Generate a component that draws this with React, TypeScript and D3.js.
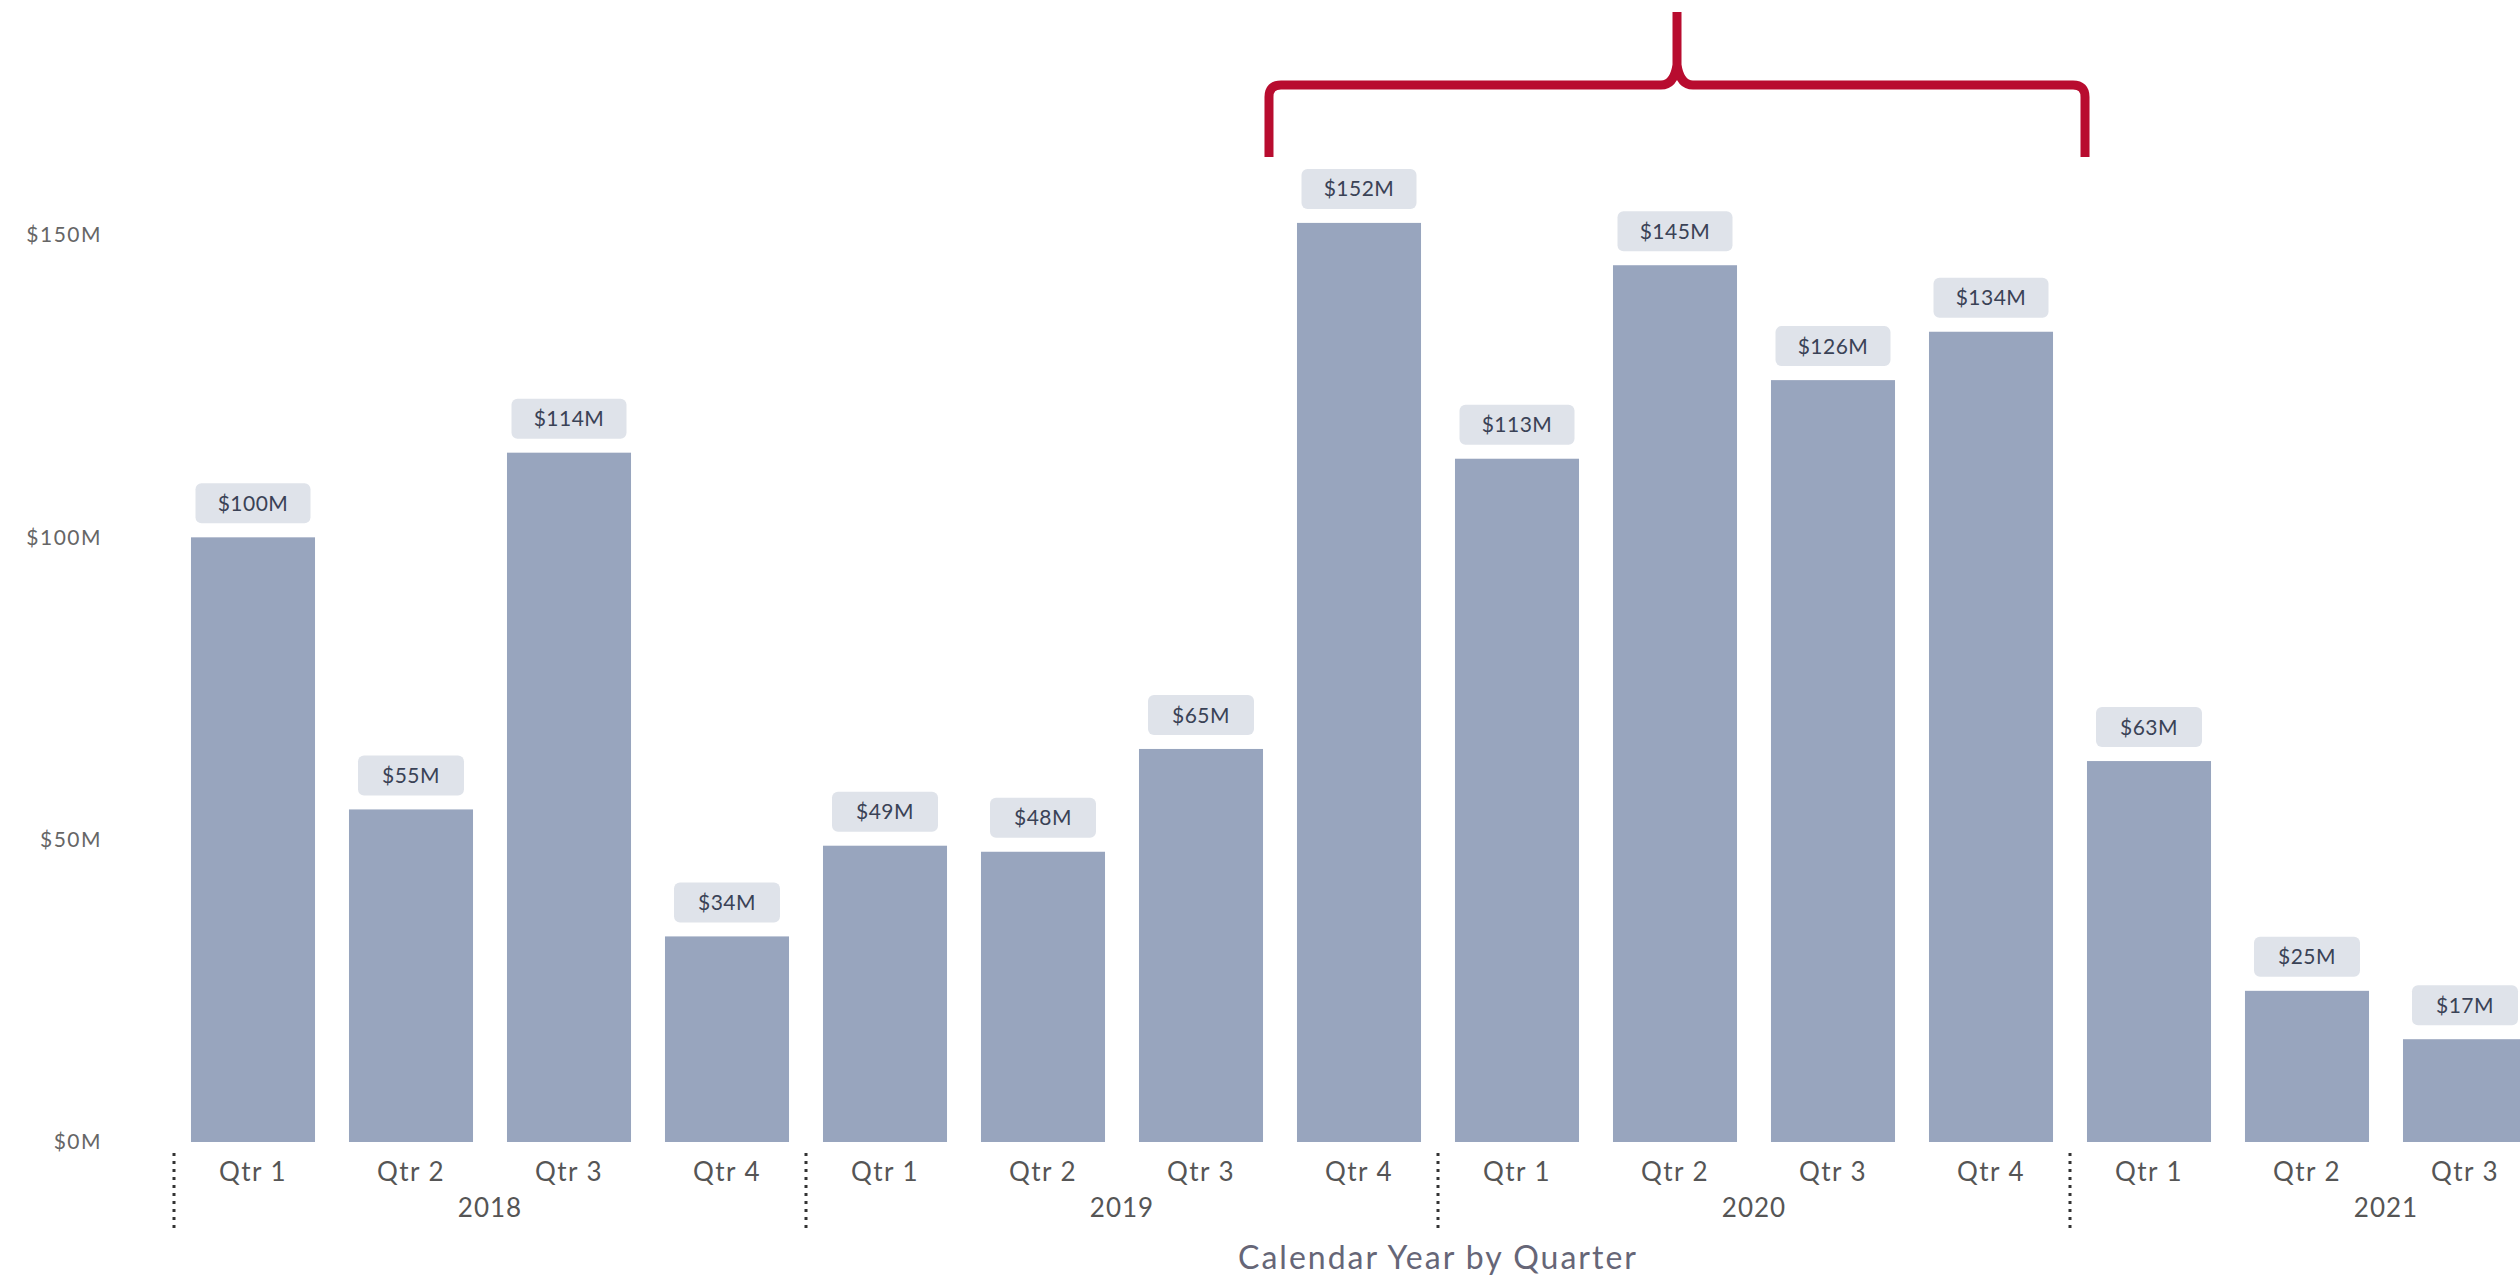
import React from "react";
import * as d3 from "d3";

const years = ["2018", "2019", "2020", "2021"];
const quarters = ["Qtr 1", "Qtr 2", "Qtr 3", "Qtr 4"];
// values in $M, in period order (2018 Qtr 1 ... 2021 Qtr 3)
const values = [100, 55, 114, 34, 49, 48, 65, 152, 113, 145, 126, 134, 63, 25, 17];
const yTicks = [0, 50, 100, 150];
const xTitle = "Calendar Year by Quarter";
const bracketFrom = "2019|Qtr 4";
const bracketTo = "2020|Qtr 4";

const W = 2520;
const H = 1278;
const FONT = "Lato, 'Open Sans', sans-serif";

export default function App() {
  const periods = years.flatMap((y) => quarters.map((q) => `${y}|${q}`));
  const data = values.map((v, i) => ({ key: periods[i], year: periods[i].split("|")[0], q: periods[i].split("|")[1], v }));

  const x = d3.scaleBand<string>().domain(periods).range([174, 2702]).paddingInner(0.215).paddingOuter(0.1075);
  const bw = x.bandwidth();
  const step = x.step();
  const y = d3.scaleLinear().domain([0, 150]).range([1142, 235]);

  const bx0 = (x(bracketFrom) as number) - 28;
  const bx1 = (x(bracketTo) as number) + bw + 32;
  const bm = (bx0 + bx1) / 2;
  const yTop = 85, yLeg = 157, yPeak = 12, r = 12;
  const bracket = `M${bx0},${yLeg} L${bx0},${yTop + r} Q${bx0},${yTop} ${bx0 + r},${yTop} L${bm - 16},${yTop} Q${bm - 3},${yTop} ${bm},${yTop - 20} L${bm},${yPeak} M${bm},${yTop - 20} Q${bm + 3},${yTop} ${bm + 16},${yTop} L${bx1 - r},${yTop} Q${bx1},${yTop} ${bx1},${yTop + r} L${bx1},${yLeg}`;

  const fmt = (v: number) => `$${v}M`;

  return (
    <svg width={W} height={H} style={{ position: "absolute", left: 0, top: 0, background: "#fff" }} fontFamily={FONT}>
      {/* y axis labels */}
      {yTicks.map((t) => (
        <text key={t} x={102} y={y(t)} dy="0.35em" textAnchor="end" fontSize={21} fill="#666" letterSpacing={1.5}>
          {fmt(t)}
        </text>
      ))}
      {/* bars */}
      {data.map((d) => (
        <rect key={d.key} x={x(d.key)} y={y(d.v)} width={bw} height={y(0) - y(d.v)} fill="#98a5be" />
      ))}
      {/* value labels */}
      {data.map((d) => {
        const cx = (x(d.key) as number) + bw / 2;
        const label = fmt(d.v);
        const w = 70 + 9 * label.length;
        const by = y(d.v) - 14 - 40;
        return (
          <g key={"l" + d.key}>
            <rect x={cx - w / 2} y={by} width={w} height={40} rx={6} fill="#dfe3ea" />
            <text x={cx} y={by + 20} dy="0.36em" textAnchor="middle" fontSize={21} fill="#3a4256" letterSpacing={0.5}>
              {label}
            </text>
          </g>
        );
      })}
      {/* quarter labels */}
      {data.map((d) => (
        <text key={"q" + d.key} x={(x(d.key) as number) + bw / 2} y={1172} dy="0.35em" textAnchor="middle" fontSize={26} fill="#555" letterSpacing={1.5}>
          {d.q}
        </text>
      ))}
      {/* year labels and separators */}
      {years.map((yr) => {
        const s = (x(`${yr}|Qtr 1`) as number) - (step - bw) / 2;
        const e = (x(`${yr}|Qtr 4`) as number) + bw + (step - bw) / 2;
        return (
          <g key={"y" + yr}>
            <line x1={s} x2={s} y1={1153} y2={1230} stroke="#333" strokeWidth={3} strokeDasharray="3,5" />
            <text x={(s + e) / 2} y={1208} dy="0.35em" textAnchor="middle" fontSize={26} fill="#555" letterSpacing={1}>
              {yr}
            </text>
          </g>
        );
      })}
      <text x={(174 + 2702) / 2} y={1258} dy="0.35em" textAnchor="middle" fontSize={32} fill="#667" letterSpacing={2}>
        {xTitle}
      </text>
      <path d={bracket} fill="none" stroke="#b80c2f" strokeWidth={9} strokeLinejoin="round" />
    </svg>
  );
}
